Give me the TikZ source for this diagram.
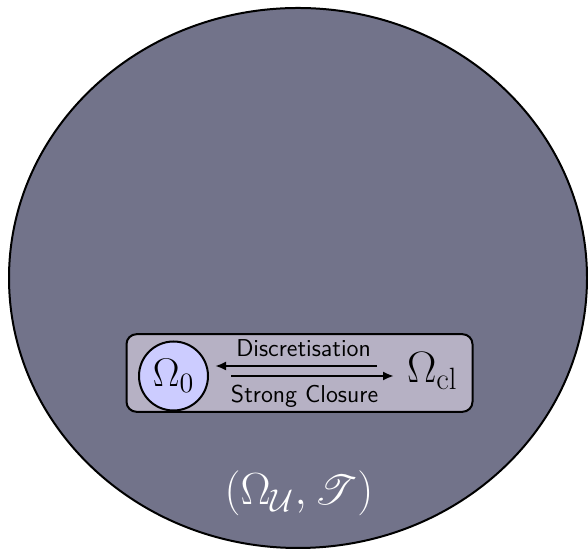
\RequirePackage{fix-cm}
\documentclass[tikz,border=0pt]{standalone}
\usepackage{fontspec}
\usepackage{mathrsfs}
\usetikzlibrary{arrows.meta,positioning}
\definecolor{spacefill}{RGB}{114,115,138}
\definecolor{boxfill}{RGB}{182,177,196}
\definecolor{omegafill}{RGB}{204,204,255}
\tikzset{
	maparrow/.style={-{Latex[length=5.5pt,width=4.5pt]},line width=1.1pt},
	maplabel/.style={font=\fontsize{12.2}{14}\selectfont\sffamily,inner sep=1pt}
}
\begin{document}
\begin{tikzpicture}[line width=1pt,x=10pt,y=10pt]
	\useasboundingbox (0,0) rectangle (29.4,27.45);
	% the whole space
	\filldraw[spacefill, draw=black] (14.9,13.55) ellipse (14.45 and 13.5);
	\node[text=white, font=\fontsize{22.5}{26}\selectfont] (space) at (14.95,2.775) {$(\Omega_{\mathcal{U}},\mathscr{T})$};
	% box round the two sets
	\filldraw[boxfill, draw=black, rounded corners=5pt] (6.325,6.86) rectangle (23.625,10.74);
	\node[circle, draw, fill=omegafill, minimum size=34.5pt, inner sep=0pt, font=\fontsize{20}{24}\selectfont] (omega0) at (8.675,8.65) {$\Omega_0$};
	\node[anchor=base west, inner sep=0pt, font=\fontsize{22}{26}\selectfont] (omegacl) at (20.3,8.3) {$\Omega_{\mathrm{cl}}$};
	% the two maps
	\draw[maparrow, shorten <=14.5pt, shorten >=3pt] ([yshift=5pt]omega0.east -| omegacl.west) -- ([yshift=5pt]omega0.east) node[maplabel, above=3pt, pos=.52] (discr) {Discretisation};
	\draw[maparrow, shorten <=11pt, shorten >=6pt] (omega0.east) -- (omega0.east -| omegacl.west) node[maplabel, below=3pt, pos=.485] (closure) {Strong Closure};
\end{tikzpicture}
\end{document}
